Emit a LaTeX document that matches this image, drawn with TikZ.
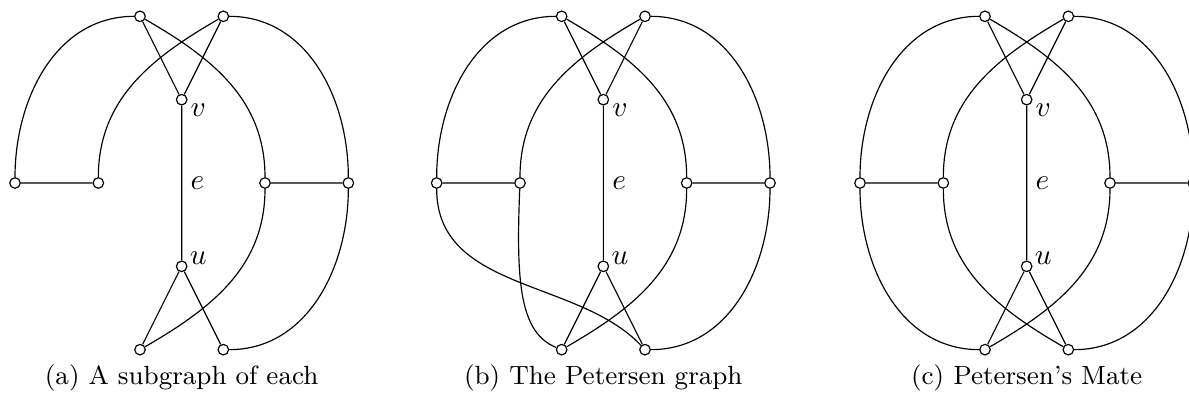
\documentclass[tikz,border=0pt]{standalone}
\begin{document}
\begin{tikzpicture}[x=1cm,y=1cm]
\tikzset{
  vtx/.style={circle,draw,fill=white,inner sep=0pt,minimum size=3.6pt,line width=0.4pt},
  edgeline/.style={line width=0.4pt},
  lbl/.style={inner sep=0pt},
  capt/.style={font=\small,anchor=base,inner sep=0pt}
}
\newcommand{\pgverts}[1]{%
  \node[vtx] (#1TL) at (-0.5,2) {};
  \node[vtx] (#1TR) at (0.5,2) {};
  \node[vtx] (#1V) at (0,1) {};
  \node[vtx] (#1U) at (0,-1) {};
  \node[vtx] (#1BL) at (-0.5,-2) {};
  \node[vtx] (#1BR) at (0.5,-2) {};
  \node[vtx] (#1LO) at (-2,0) {};
  \node[vtx] (#1LI) at (-1,0) {};
  \node[vtx] (#1RI) at (1,0) {};
  \node[vtx] (#1RO) at (2,0) {};
  \node[lbl] (#1Vl) at ([shift={(0.2,-0.125)}]#1V.center) {$v$};
  \node[lbl] (#1El) at (0.19,0) {$e$};
  \node[lbl] (#1Ul) at ([shift={(0.2,0.1)}]#1U.center) {$u$};
  \draw[edgeline] (#1TL) -- (#1V) (#1TR) -- (#1V) (#1V) -- (#1U)
    (#1U) -- (#1BL) (#1U) -- (#1BR) (#1LO) -- (#1LI) (#1RI) -- (#1RO);
  \draw[edgeline] (#1TL) to[out=180,in=90] (#1LO);
  \draw[edgeline] (#1TR) to[out=0,in=90] (#1RO);
  \draw[edgeline] (#1RO) to[out=-90,in=0] (#1BR);
  \draw[edgeline] (#1TL) to[out=-30,in=90] (#1RI);
  \draw[edgeline] (#1TR) to[out=210,in=90] (#1LI);
  \draw[edgeline] (#1RI) to[out=-90,in=30] (#1BL);
}
\useasboundingbox (0,-4.788) rectangle (14.268,0);
% (a)
\begin{scope}[shift={(2.18,-2.196)}]
  \pgverts{a}
  \node[capt] (acap) at (0,-2.424) {(a) A subgraph of each};
\end{scope}
% (b)
\begin{scope}[shift={(7.24,-2.196)}]
  \pgverts{b}
  \draw[edgeline] (bLI) .. controls (-1.05,-1.2) and (-1.0,-1.8) .. (bBL);
  \draw[edgeline] (bLO) .. controls (-2,-1.3) and (-0.3,-1.15) .. (bBR);
  \node[capt] (bcap) at (0,-2.424) {(b) The Petersen graph};
\end{scope}
% (c)
\begin{scope}[shift={(12.32,-2.196)}]
  \pgverts{c}
  \draw[edgeline] (cLO) to[out=-90,in=180] (cBL);
  \draw[edgeline] (cLI) to[out=-90,in=150] (cBR);
  \node[capt] (ccap) at (0,-2.424) {(c) Petersen's Mate};
\end{scope}
\end{tikzpicture}
\end{document}
